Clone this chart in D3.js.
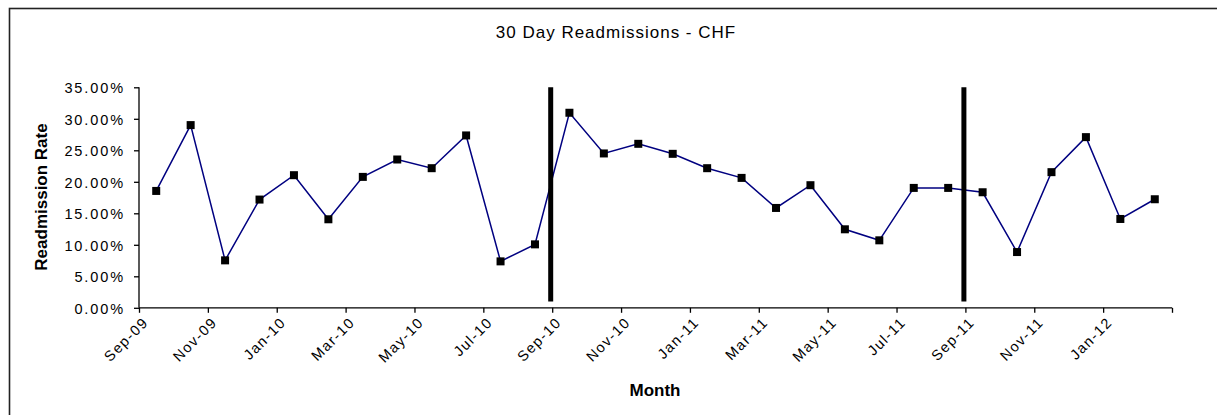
<!DOCTYPE html>
<html><head><meta charset="utf-8">
<script src="https://cdn.jsdelivr.net/npm/d3@7"></script>
<style>
html,body{margin:0;padding:0;background:#fff;}
svg{display:block;font-family:"Liberation Sans",Arial,sans-serif;}
</style></head>
<body><svg id="c" width="1217" height="415"></svg>
<script>
const months = ["Sep-09","Oct-09","Nov-09","Dec-09","Jan-10","Feb-10","Mar-10","Apr-10","May-10","Jun-10","Jul-10","Aug-10",
"Sep-10","Oct-10","Nov-10","Dec-10","Jan-11","Feb-11","Mar-11","Apr-11","May-11","Jun-11","Jul-11","Aug-11",
"Sep-11","Oct-11","Nov-11","Dec-11","Jan-12","Feb-12"];
const rates = [18.55,29.0,7.53,17.18,21.05,14.05,20.78,23.54,22.16,27.36,7.37,10.07,
30.96,24.5,26.03,24.44,22.16,20.62,15.85,19.46,12.46,10.71,19.03,19.03,
18.34,8.85,21.53,27.09,14.1,17.23];
const tickLabels = ["Sep-09","Nov-09","Jan-10","Mar-10","May-10","Jul-10","Sep-10","Nov-10","Jan-11","Mar-11","May-11","Jul-11","Sep-11","Nov-11","Jan-12",""];
const yTicks = [0,5,10,15,20,25,30,35];
const markerMonths = ["Sep-10","Sep-11"];
const markerRange = [1,35];

const svg = d3.select("#c");
const pL=139, pR=1172, pT=87.3, pB=307.8;
const x = d3.scaleLinear().domain([0, months.length]).range([pL,pR]);
const y = d3.scaleLinear().domain([0,35]).range([pB,pT]);

// outer frame
svg.append("rect").attr("x",9.5).attr("y",8.5).attr("width",1300).attr("height",600)
  .attr("fill","none").attr("stroke","#222").attr("stroke-width",1.6);

// title
svg.append("text").attr("x",616).attr("y",37.5).attr("text-anchor","middle")
  .style("font-size","17px").style("letter-spacing","1px").text("30 Day Readmissions - CHF");

// y axis
const yAxis = d3.axisLeft(y).tickValues(yTicks).tickSize(5).tickPadding(0).tickFormat(d=>d3.format(".2f")(d)+"%");
const gy = svg.append("g").attr("transform",`translate(${pL},0)`).call(yAxis);
gy.select(".domain").attr("stroke","#000").attr("stroke-width",1.3).attr("d",`M0,${pT}V${pB}`);
gy.selectAll(".tick line").attr("stroke","#000").attr("stroke-width",1.3);
gy.selectAll(".tick text").attr("x",-14).attr("dy","0.36em").attr("fill","#000")
  .style("font-size","14.5px").style("letter-spacing","1.9px").style("font-family","'Liberation Sans',Arial,sans-serif");

// x axis
const tickIdx = tickLabels.map((_,i)=>i*2);
const xAxis = d3.axisBottom(x).tickValues(tickIdx).tickSize(5).tickFormat((d,i)=>tickLabels[i]);
const gx = svg.append("g").attr("transform",`translate(0,${pB})`).call(xAxis);
gx.select(".domain").attr("stroke","#000").attr("stroke-width",1.3).attr("d",`M${pL},0H${pR}`);
gx.selectAll(".tick line").attr("stroke","#000").attr("stroke-width",1.3);
gx.selectAll(".tick text").attr("text-anchor","end").attr("y",0).attr("dy","0.35em")
  .attr("transform","translate(6,12) rotate(-45)").attr("fill","#000")
  .style("font-size","14.5px").style("letter-spacing","1.4px").style("font-family","'Liberation Sans',Arial,sans-serif");

// axis titles
svg.append("text").attr("transform","translate(47,197) rotate(-90)").attr("text-anchor","middle")
  .style("font-size","17px").style("font-weight","bold").text("Readmission Rate");
svg.append("text").attr("x",655).attr("y",396).attr("text-anchor","middle")
  .style("font-size","17px").style("font-weight","bold").text("Month");

// data line
const line = d3.line().x((d,i)=>x(i+0.5)).y(d=>y(d));
svg.append("path").datum(rates).attr("d",line).attr("fill","none").attr("stroke","#000080").attr("stroke-width",1.5);

// marker lines
svg.selectAll(".mk").data(markerMonths).enter().append("line")
  .attr("x1",d=>x(months.indexOf(d))-1.5).attr("x2",d=>x(months.indexOf(d))-1.5)
  .attr("y1",y(markerRange[0])).attr("y2",y(markerRange[1]))
  .attr("stroke","#000").attr("stroke-width",5);

// points
svg.selectAll(".pt").data(rates).enter().append("rect")
  .attr("x",(d,i)=>x(i+0.5)-4).attr("y",d=>y(d)-4).attr("width",8).attr("height",8).attr("fill","#000");
</script></body></html>
